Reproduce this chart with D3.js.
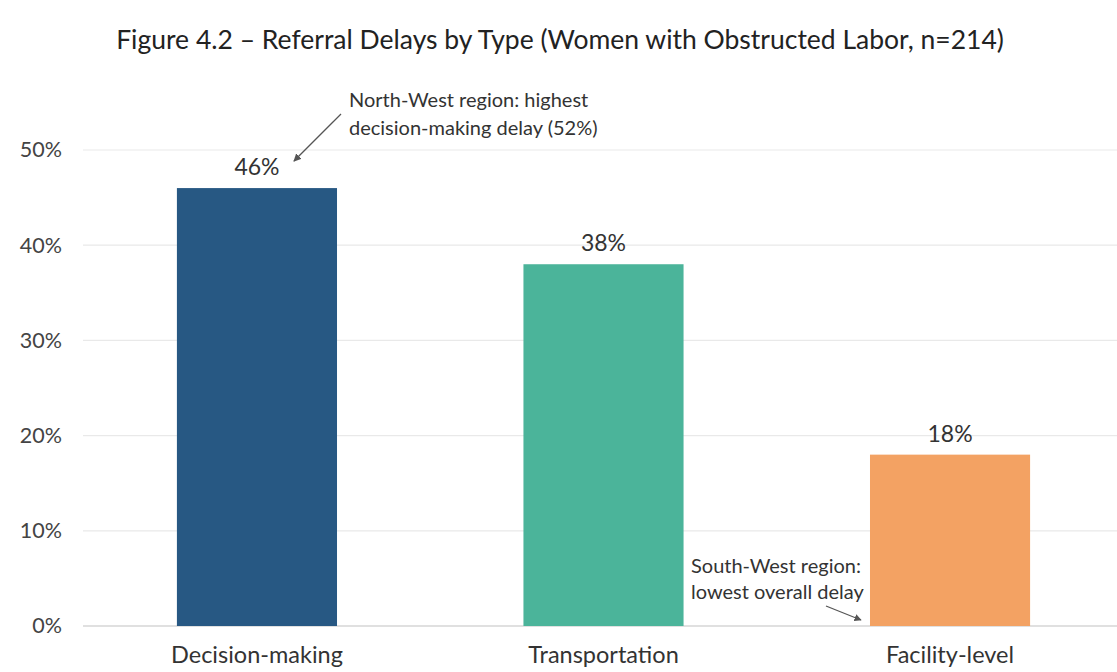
<!DOCTYPE html>
<html>
<head>
<meta charset="utf-8">
<script src="https://cdn.jsdelivr.net/npm/d3@7/dist/d3.min.js"></script>
<style>
  html, body { margin: 0; padding: 0; background: #ffffff; }
  svg { display: block; font-family: Lato, "Open Sans", sans-serif; }
</style>
</head>
<body>
<svg id="chart" width="1117" height="672"></svg>
<script>
// Referral delay types and share of women reporting each
const categories = ["Decision-making", "Transportation", "Facility-level"];
const values = [46, 38, 18];
const barColors = ["#275883", "#4bb49a", "#f3a263"];
const yTicks = [0, 10, 20, 30, 40, 50];
const titleText = "Figure 4.2 \u2013 Referral Delays by Type (Women with Obstructed Labor, n=214)";
const noteNorth = ["North-West region: highest", "decision-making delay (52%)"];
const noteSouth = ["South-West region:", "lowest overall delay"];

const W = 1117, H = 672;
const margin = { left: 83, top: 150, bottom: 46 };
const svg = d3.select("#chart");

const x = d3.scaleBand()
  .domain(categories)
  .range([margin.left, 1124])
  .paddingInner(0.538)
  .paddingOuter(0.271);

const y = d3.scaleLinear()
  .domain([0, 50])
  .range([H - margin.bottom, margin.top]);

// Title
svg.append("text")
  .attr("x", 560).attr("y", 49)
  .attr("text-anchor", "middle")
  .attr("font-size", 26.5)
  .attr("fill", "#222")
  .text(titleText);

// Horizontal gridlines
svg.append("g").selectAll("line")
  .data(yTicks)
  .join("line")
  .attr("x1", margin.left).attr("x2", W)
  .attr("y1", d => y(d)).attr("y2", d => y(d))
  .attr("stroke", d => d === 0 ? "#d6d6d6" : "#e9e9e9")
  .attr("stroke-width", d => d === 0 ? 1.5 : 1.2);

// Y axis labels
const yAxis = d3.axisLeft(y).tickValues(yTicks).tickFormat(d => d + "%").tickSize(0).tickPadding(0);
svg.append("g")
  .attr("transform", `translate(62,0)`)
  .call(yAxis)
  .call(g => g.select(".domain").remove())
  .call(g => g.selectAll("text")
    .attr("font-family", "Lato, sans-serif")
    .attr("font-size", 21.5)
    .attr("fill", "#444"));

// Bars
svg.append("g").selectAll("rect")
  .data(values)
  .join("rect")
  .attr("x", (d, i) => x(categories[i]))
  .attr("y", d => y(d))
  .attr("width", x.bandwidth())
  .attr("height", d => y(0) - y(d))
  .attr("fill", (d, i) => barColors[i]);

// Value labels
svg.append("g").selectAll("text")
  .data(values)
  .join("text")
  .attr("x", (d, i) => x(categories[i]) + x.bandwidth() / 2)
  .attr("y", d => y(d) - 13)
  .attr("text-anchor", "middle")
  .attr("font-size", 23)
  .attr("fill", "#333")
  .text(d => d + "%");

// Category labels
const xAxis = d3.axisBottom(x).tickSize(0).tickPadding(0);
svg.append("g")
  .attr("transform", `translate(0,${y(0) + 20})`)
  .call(xAxis)
  .call(g => g.select(".domain").remove())
  .call(g => g.selectAll("text")
    .attr("font-family", "Lato, sans-serif")
    .attr("font-size", 23.5)
    .attr("fill", "#333"));

// Arrowhead marker
svg.append("defs").append("marker")
  .attr("id", "arrowhead")
  .attr("viewBox", "0 0 10 10")
  .attr("refX", 9).attr("refY", 5)
  .attr("markerWidth", 6).attr("markerHeight", 6)
  .attr("orient", "auto")
  .append("path")
  .attr("d", "M0,0 L10,5 L0,10 Z")
  .attr("fill", "#555");

// Annotation: North-West region
const north = svg.append("g");
north.selectAll("text")
  .data(noteNorth)
  .join("text")
  .attr("x", 349)
  .attr("y", (d, i) => 107 + i * 28)
  .attr("font-size", 20)
  .attr("fill", "#333")
  .text(d => d);
north.append("line")
  .attr("x1", 341).attr("y1", 114)
  .attr("x2", x(categories[0]) + x.bandwidth() / 2 + 37).attr("y2", y(values[0]) - 27)
  .attr("stroke", "#555").attr("stroke-width", 1.3)
  .attr("marker-end", "url(#arrowhead)");

// Annotation: South-West region
const south = svg.append("g");
south.selectAll("text")
  .data(noteSouth)
  .join("text")
  .attr("x", 691)
  .attr("y", (d, i) => 573 + i * 26)
  .attr("font-size", 20)
  .attr("fill", "#333")
  .text(d => d);
south.append("line")
  .attr("x1", 826).attr("y1", 606)
  .attr("x2", x(categories[2]) - 9).attr("y2", y(0) - 6)
  .attr("stroke", "#555").attr("stroke-width", 1.2)
  .attr("marker-end", "url(#arrowhead)");
</script>
</body>
</html>
